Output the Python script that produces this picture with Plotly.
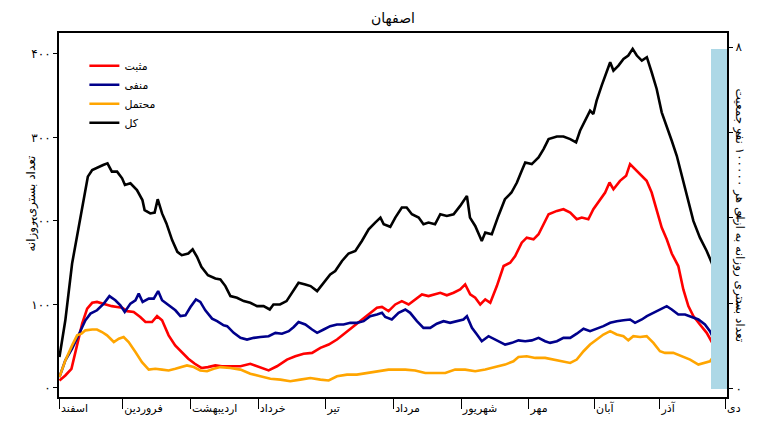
"""
Isfahan daily hospitalisations chart (positive / negative / probable / total).
"""

import plotly.graph_objects as go

# Data (day index from 1 Esfand)

total_days = [0, 2.7, 5.8, 9.6, 13, 15, 18, 20, 22, 24, 26.4, 28.7, 30, 32.5, 35.5,
              38, 39, 41.6, 43.6, 45, 47, 49, 51.6, 54, 56, 59, 61, 63, 65, 68,
              71.4, 73.7, 76, 78.3, 81.3, 84.4, 87.4, 90.5, 93.5, 96.3, 98, 101,
              104, 106.5, 109.5, 112.6, 115, 118, 121, 124, 126.3, 129.4, 132.4,
              135.5, 138.5, 141.6, 144.6, 147, 148.5, 151.5, 153.8, 156.8, 159,
              161.4, 164.5, 166.7, 169, 172, 174.4, 177.4, 180.5, 183.5, 186.6,
              188, 190.4, 193.4, 195, 198, 201, 204, 207, 209.5, 211.7, 213.3,
              216.3, 219.4, 221.7, 224, 227.8, 230.8, 233.9, 236.6, 238.4, 240.7,
              243, 244.5, 246, 248.3, 250.6, 252.2, 253.7, 256, 258.3, 260.5,
              262.5, 264.4, 266.7, 269, 271.2, 273.5, 275.8, 278.1, 280.4, 282.7,
              285.7, 288, 290.3, 293.3, 296.4, 298.7, 301, 302.5]
total_vals = [37, 81, 149, 205, 253, 261, 265, 267, 269, 259, 259, 251, 243, 245, 237,
              225, 213, 209, 210, 226, 209, 197, 177, 163, 159, 161, 166, 157, 145, 135,
              131, 130, 122, 110, 108, 104, 102, 98, 98, 94, 100, 100,
              104, 114, 126, 124, 122, 116, 126, 136, 140, 152, 161,
              164, 176, 190, 198, 204, 196, 193, 204, 216, 216,
              208, 204, 196, 198, 196, 208, 206, 208, 218, 230,
              204, 194, 176, 186, 184, 206, 226, 234, 246, 260, 270,
              268, 276, 286, 298, 301, 301, 298, 294, 308, 320,
              332, 328, 344, 362, 378, 390, 380, 386, 394, 398,
              406, 398, 392, 396, 378, 358, 330, 314, 296, 278,
              246, 222, 200, 180, 164, 150, 130, 110]

pos_days = [0, 2.7, 5.5, 8, 10.4, 12.7, 15, 17.2, 19.5, 21.8, 24, 26.4, 28.7, 31, 34,
            37, 39.4, 42.4, 44.7, 47, 50, 53, 56, 59, 62, 65, 68, 71.4, 74.4,
            78.3, 82.9, 87.4, 92, 95.8, 99.6, 104.2, 108, 111.8, 115.7, 119.5,
            123.3, 127.1, 131, 134.7, 138.5, 142.3, 145.4, 147.7, 150.7, 153.8,
            156.8, 159.9, 163, 166, 169, 172, 174.4, 177.4, 180.5, 183.5, 185.8,
            188.1, 190.4, 192.7, 195, 197.3, 200.3, 203.4, 206.4, 208.7, 211.7,
            214, 217.1, 219.4, 221.7, 224, 227.8, 230.8, 233.9, 236.9, 239.2,
            242.2, 244.5, 246.8, 249.9, 251.9, 253.7, 256.7, 259.5, 261.3, 263.6,
            265.9, 268.9, 271.2, 273.5, 275.8, 278.1, 280.4, 283.4, 285.7, 288,
            290.3, 293.3, 296.4, 299.4, 301.7]
pos_vals = [9, 15, 23, 49, 77, 95, 102, 103, 101, 99, 98, 97, 96, 92, 91,
            85, 79, 79, 86, 81, 63, 51, 43, 35, 29, 24, 25, 27, 26,
            26, 26, 29, 25, 21, 26, 34, 38, 41, 42, 48,
            52, 58, 66, 74, 82, 90, 96, 97, 92, 100,
            104, 100, 106, 112, 110, 112, 114, 111, 114, 118, 124,
            112, 108, 100, 106, 102, 122, 146, 150, 158, 174,
            180, 178, 184, 196, 208, 212, 214, 210, 202, 204,
            202, 214, 222, 234, 246, 238, 248, 254, 268, 262,
            256, 248, 234, 214, 192, 178, 161, 146, 118, 98,
            86, 76, 66, 52, 34]

neg_days = [0, 2.7, 5.8, 8.8, 11.9, 14.2, 17.2, 20.3, 22.9, 25.6, 27.9, 29.9, 32.5,
            34.8, 36.3, 38.1, 40.9, 43.2, 45.2, 47, 50, 53.1, 55.4, 57.7, 60, 62.5,
            64.5, 66.8, 69.9, 72.2, 75.2, 76.8, 79.8, 82.9, 85.9, 89, 92, 95.8,
            98.9, 101.9, 105, 107.3, 109.5, 112.6, 115.7, 118, 121, 124, 127.1,
            130.1, 133.2, 136.2, 139.3, 142.3, 145.4, 147.7, 149.2, 152.2, 155.3,
            158.4, 160.6, 163.7, 166.7, 169.8, 172.8, 175.9, 178.9, 182, 185,
            186.6, 188.9, 191.2, 193.4, 196.5, 199.5, 202.6, 204.1, 207.2, 210.2,
            213.3, 216.3, 219.4, 222.4, 224.7, 227.8, 230.8, 233.9, 236.9, 240,
            243, 246.1, 249.1, 252.2, 255.2, 258.3, 261.3, 263.6, 266.7, 269, 272,
            275, 278.1, 280.4, 283.4, 286.5, 289.5, 292.6, 295.6, 297.9, 300.2,
            301.7]
neg_vals = [13, 33, 47, 63, 81, 89, 93, 101, 110, 105, 99, 91, 101,
            105, 113, 103, 107, 107, 116, 105, 99, 93, 86, 87, 97, 106,
            103, 93, 83, 80, 75, 74, 66, 60, 58, 60, 61, 62,
            66, 65, 68, 73, 79, 76, 70, 66, 70, 74, 76,
            76, 78, 78, 80, 86, 88, 90, 85, 82, 90,
            94, 90, 80, 72, 72, 77, 80, 78, 80, 82,
            86, 72, 64, 56, 62, 58, 54, 52, 54, 57,
            56, 57, 60, 56, 54, 56, 60, 60, 65, 71,
            68, 71, 74, 78, 80, 81, 82, 78, 82, 86, 90,
            94, 98, 94, 88, 88, 85, 82, 76, 68, 56,
            40]

prob_days = [0, 2.7, 5.8, 8.1, 10.1, 11.9, 15, 17.2, 19.5, 21.8, 24.9, 27.2, 29.4,
             31.7, 34.8, 37.8, 40.9, 43.9, 47, 50, 53.1, 56.1, 58.4, 61.5, 64.5,
             67.6, 70.6, 73.7, 78.3, 82.9, 87.4, 92, 96.6, 101.2, 105.7, 110.3,
             114.9, 119.5, 123.3, 127.1, 131.7, 136.2, 140.8, 145.4, 150.7, 153.8,
             158.4, 162.9, 167.5, 172.1, 176.7, 181.2, 185.8, 190.4, 195, 199.5,
             204.1, 207.9, 210.2, 214, 217.9, 222.4, 226.2, 229.3, 233.9, 236.9,
             240, 243, 246.1, 249.1, 252.2, 255.2, 258.3, 260.5, 262.8, 265.9,
             268.9, 272, 275, 277.3, 281.1, 284.9, 288.8, 292.6, 295.6, 297.9,
             300.2, 301.4]
prob_vals = [13, 33, 51, 63, 65, 69, 70, 70, 67, 63, 55, 59, 61,
             55, 43, 31, 22, 23, 22, 21, 23, 25, 27, 25, 21,
             20, 23, 25, 24, 22, 17, 14, 11, 10, 8, 10,
             12, 10, 9, 14, 16, 16, 18, 20, 22, 22,
             22, 21, 18, 18, 18, 22, 22, 20, 22, 25,
             28, 32, 37, 38, 36, 36, 34, 32, 30, 34,
             44, 52, 58, 64, 68, 64, 62, 57, 62, 61,
             62, 54, 44, 42, 42, 38, 34, 28, 30, 32,
             40, 46]

# shaded band at the end (right axis, per 100000)
band_start = 298.4
band_end = 305.7
band_value = 7.95

month_days = [0, 29, 60, 91, 122, 153, 184, 215, 245, 275, 305]
month_names = ["اسفند", "فروردین", "اردیبهشت", "خرداد", "تیر", "مرداد",
               "شهریور", "مهر", "آبان", "آذر", "دی"]

left_ticks = [0, 100, 200, 300, 400]
left_labels = ["۰", "۱۰۰", "۲۰۰", "۳۰۰", "۴۰۰"]
right_ticks = [0, 2, 4, 6, 8]
right_labels = ["۰", "۲", "۴", "۶", "۸"]

FONT = "DejaVu Sans"

# page body keeps an 8px margin, so the figure is 8px smaller each way
FIG_W = 760
FIG_H = 423

fig = go.Figure()

fig.add_trace(
    go.Bar(
        x=[(band_start + band_end) / 2],
        y=[band_value],
        width=[band_end - band_start],
        marker=dict(color="#add8e6", line=dict(width=0)),
        yaxis="y2",
        showlegend=False,
        hoverinfo="skip",
    )
)

series = [
    ("مثبت", pos_days, pos_vals, "#ff0000"),
    ("منفی", neg_days, neg_vals, "#00008b"),
    ("محتمل", prob_days, prob_vals, "#ffa500"),
    ("کل", total_days, total_vals, "#000000"),
]

for name, xs, ys, color in series:
    fig.add_trace(
        go.Scatter(
            x=xs,
            y=ys,
            mode="lines",
            name=name,
            line=dict(color=color, width=2.6),
        )
    )

fig.update_layout(
    width=FIG_W,
    height=FIG_H,
    margin=dict(l=51, r=41, t=25, b=34),
    paper_bgcolor="white",
    plot_bgcolor="white",
    font=dict(family=FONT, size=11, color="black"),
    title=dict(
        text="اصفهان",
        x=0.5,
        xref="paper",
        y=1 - 10 / FIG_H,
        yanchor="middle",
        font=dict(family=FONT, size=14, color="black"),
    ),
    showlegend=True,
    legend=dict(
        x=0.038,
        y=0.95,
        xanchor="left",
        yanchor="top",
        bgcolor="rgba(0,0,0,0)",
        font=dict(size=11),
        itemwidth=30,
        tracegroupgap=0,
    ),
    bargap=0,
    xaxis=dict(
        range=[-0.2, 305.7],
        tickvals=month_days,
        ticktext=month_names,
        ticks="outside",
        ticklen=10,
        tickwidth=1.2,
        tickcolor="black",
        ticklabelposition="outside right",
        showline=True,
        linecolor="black",
        linewidth=2,
        mirror=True,
        showgrid=False,
        zeroline=False,
        tickfont=dict(size=11),
    ),
    yaxis=dict(
        range=[-10.8, 425],
        tickvals=left_ticks,
        ticktext=left_labels,
        ticks="outside",
        ticklen=4,
        tickcolor="black",
        showline=True,
        linecolor="black",
        linewidth=2,
        showgrid=False,
        zeroline=False,
        tickfont=dict(size=12),
    ),
    yaxis2=dict(
        range=[-0.19, 8.33],
        overlaying="y",
        side="right",
        tickvals=right_ticks,
        ticktext=right_labels,
        ticks="outside",
        ticklen=4,
        tickcolor="black",
        showline=True,
        linecolor="black",
        linewidth=2,
        showgrid=False,
        zeroline=False,
        tickfont=dict(size=12),
    ),
)

# Axis titles (right one reads top to bottom)
fig.add_annotation(
    text="تعداد بستری روزانه",
    xref="paper", yref="paper",
    x=(22 - 59) / 668, y=0.53,
    textangle=-90,
    showarrow=False,
    font=dict(size=12),
)
fig.add_annotation(
    text="تعداد بستری روزانه به ازای هر ۱۰۰۰۰۰ نفر جمعیت",
    xref="paper", yref="paper",
    x=(749 - 59) / 668, y=0.5,
    textangle=90,
    showarrow=False,
    font=dict(size=12),
)

fig.write_html("out.html")
